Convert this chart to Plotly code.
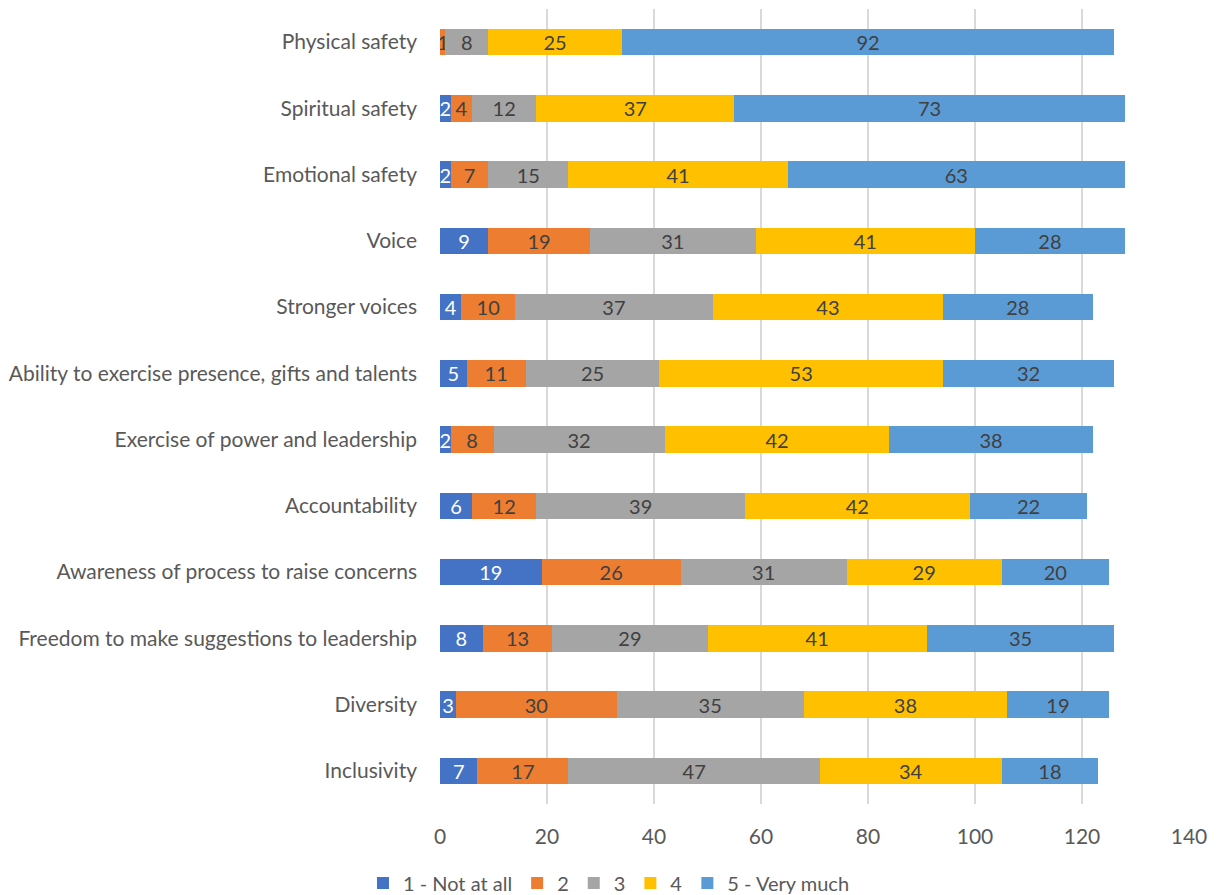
import plotly.graph_objects as go

categories = [
    "Physical safety",
    "Spiritual safety",
    "Emotional safety",
    "Voice",
    "Stronger voices",
    "Ability to exercise presence, gifts and talents",
    "Exercise of power and leadership",
    "Accountability",
    "Awareness of process to raise concerns",
    "Freedom to make suggestions to leadership",
    "Diversity",
    "Inclusivity",
]

not_at_all = [0, 2, 2, 9, 4, 5, 2, 6, 19, 8, 3, 7]
level_2 = [1, 4, 7, 19, 10, 11, 8, 12, 26, 13, 30, 17]
level_3 = [8, 12, 15, 31, 37, 25, 32, 39, 31, 29, 35, 47]
level_4 = [25, 37, 41, 41, 43, 53, 42, 42, 29, 41, 38, 34]
very_much = [92, 73, 63, 28, 28, 32, 38, 22, 20, 35, 19, 18]

series_names = ["1 - Not at all", "2", "3", "4", "5 - Very much"]
series_values = [not_at_all, level_2, level_3, level_4, very_much]
series_colors = ["#4472C4", "#ED7D31", "#A5A5A5", "#FFC000", "#5B9BD5"]
text_colors = ["#FFFFFF", "#404040", "#404040", "#404040", "#404040"]

x_ticks = [0, 20, 40, 60, 80, 100, 120, 140]

FONT = "Lato, 'Open Sans', sans-serif"

fig = go.Figure()
for name, vals, col, tcol in zip(series_names, series_values, series_colors, text_colors):
    fig.add_trace(go.Bar(
        y=categories,
        x=vals,
        name=name,
        orientation="h",
        marker=dict(color=col, line=dict(width=0)),
        text=[str(v) if v else "" for v in vals],
        textposition="inside",
        insidetextanchor="middle",
        textangle=0,
        constraintext="none",
        textfont=dict(color=tcol, size=20, family=FONT),
        hoverinfo="x+y+name",
    ))

fig.update_layout(
    barmode="stack",
    bargap=0.6,
    width=1218,
    height=895,
    margin=dict(l=440, r=29, t=9, b=91, autoexpand=False),
    paper_bgcolor="white",
    plot_bgcolor="white",
    font=dict(family=FONT, size=20, color="#404040"),
    uniformtext=dict(minsize=20, mode="show"),
    xaxis=dict(
        range=[0, 140],
        tickvals=x_ticks,
        ticktext=[str(t) for t in x_ticks],
        showgrid=True,
        gridcolor="#D9D9D9",
        gridwidth=1.5,
        zeroline=False,
        showline=False,
        tickfont=dict(size=21, color="#595959", family=FONT),
        ticks="",
        ticklabelstandoff=18,
    ),
    yaxis=dict(
        autorange="reversed",
        showgrid=False,
        showline=False,
        zeroline=False,
        tickfont=dict(size=21, color="#595959", family=FONT),
        ticks="",
        ticklabelstandoff=22,
    ),
    legend=dict(
        orientation="h",
        x=0.2256,
        xanchor="center",
        y=-0.0994,
        yanchor="middle",
        font=dict(size=20, color="#595959", family=FONT),
        traceorder="normal",
        itemwidth=30,
    ),
)

fig.write_html("out.html")
